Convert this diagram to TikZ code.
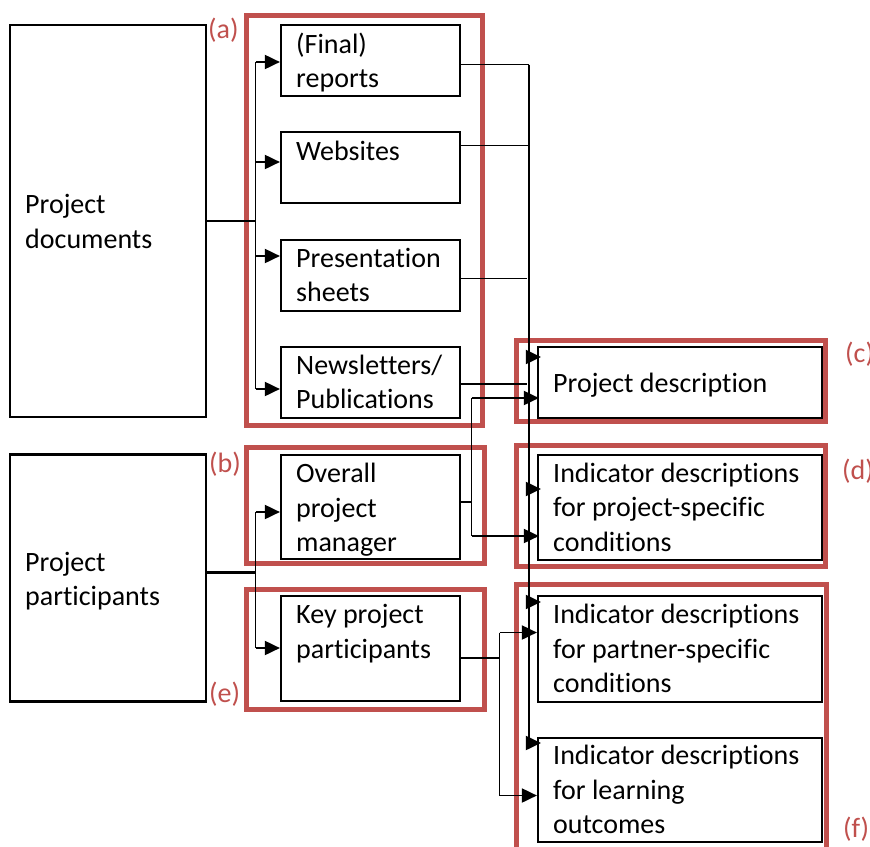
\documentclass[tikz,border=0pt]{standalone}
\usepackage{fontspec}
\setmainfont{Carlito}[Ligatures=NoCommon]
\usetikzlibrary{arrows.meta}
\definecolor{grpred}{HTML}{C0504D}
\begin{document}
\begin{tikzpicture}[x=1pt,y=-1pt,
  bx/.style={draw=black,line width=2.2pt,inner sep=0pt,minimum width=179pt},
  wbx/.style={draw=black,line width=2.2pt,inner sep=0pt,minimum width=284pt},
  txt/.style={inner sep=0pt,anchor=base west,align=left,font=\fontsize{28}{34.5}\selectfont},
  lab/.style={inner sep=0pt,anchor=base west,text=grpred,font=\fontsize{28}{34.5}\selectfont},
  ln/.style={draw=black,line width=1.9pt},
  thk/.style={draw=black,line width=2.6pt},
  arr/.style={ln,-{Triangle[length=15pt,width=14pt]}},
  grp/.style={draw=grpred,line width=5pt}]
\useasboundingbox (0,0) rectangle (870,846);
\clip (0,0) rectangle (870,846);
\fill[white] (0,0) rectangle (870,846);

% red group frames
\draw[grp] (246,15.5) rectangle (482.5,425.5);
\draw[grp] (246,447.5) rectangle (484.5,563.5);
\draw[grp] (246,589.5) rectangle (484.5,709.5);
\draw[grp] (516,340) rectangle (825,421.5);
\draw[grp] (516,445) rectangle (825,566);
\draw[grp] (516,584.5) rectangle (826,860);

% boxes
\node[draw=black,line width=2.2pt,inner sep=0pt,minimum width=196pt,minimum height=392pt] (docs) at (108,221) {};
\node[draw=black,line width=2.2pt,inner sep=0pt,minimum width=196pt,minimum height=247pt] (parts) at (108,578) {};
\node[bx,minimum height=71pt] (rep) at (370.5,60.5) {};
\node[bx,minimum height=71pt] (web) at (370.5,167.5) {};
\node[bx,minimum height=71pt] (pres) at (370.5,275.5) {};
\node[bx,minimum height=71pt] (news) at (370.5,382.5) {};
\node[bx,minimum height=104pt] (opm) at (370.5,507) {};
\node[bx,minimum height=105pt] (kpp) at (370.5,648.5) {};
\node[wbx,minimum height=71pt] (pd) at (680,382.5) {};
\node[wbx,minimum height=105pt] (ind1) at (680,507.5) {};
\node[wbx,minimum height=106pt] (ind2) at (680,649) {};
\node[wbx,minimum height=104pt] (ind3) at (680,790) {};

% texts (anchor = baseline of the last line)
\node[txt] (tdocs) at (25,248) {Project\\documents};
\node[txt] (tparts) at (25,605.5) {Project\\participants};
\node[txt] (trep) at (296,87.5) {(Final)\\reports};
\node[txt] (tweb) at (296,160) {Websites};
\node[txt] (tpres) at (296,301.5) {Presentation\\sheets};
\node[txt] (tnews) at (296,408.5) {Newsletters/\\Publications};
\node[txt] (topm) at (296,551.5) {Overall\\project\\manager};
\node[txt] (tkpp) at (296,658) {Key project\\participants};
\node[txt] (tpd) at (553,392) {Project description};
\node[txt] (tind1) at (553,551) {Indicator descriptions\\for project-specific\\conditions};
\node[txt] (tind2) at (553,692.5) {Indicator descriptions\\for partner-specific\\conditions};
\node[txt] (tind3) at (553,833.5) {Indicator descriptions\\for learning\\outcomes};

% group labels
\node[lab] (la) at (208,38) {(a)};
\node[lab] (lb) at (209,472) {(b)};
\node[lab] (lc) at (845,362) {(c)};
\node[lab] (ld) at (842,479) {(d)};
\node[lab] (le) at (209,702) {(e)};
\node[lab] (lf) at (843,837) {(f)};

% project documents bus
\coordinate (dj) at (255.5,221);
\coordinate (d1) at (255.5,62);
\coordinate (d2) at (255.5,162);
\coordinate (d3) at (255.5,256);
\coordinate (d4) at (255.5,389);
\draw[thk] (dj -| docs.east) -- (dj);
\draw[ln] (d1) -- (d4);
\draw[arr] (d1) -- (d1 -| rep.west);
\draw[arr] (d2) -- (d2 -| web.west);
\draw[arr] (d3) -- (d3 -| pres.west);
\draw[arr] (d4) -- (d4 -| news.west);

% project participants bus
\coordinate (pj) at (255.5,572.5);
\coordinate (p1) at (255.5,512);
\coordinate (p2) at (255.5,648);
\draw[thk] (pj -| parts.east) -- (pj);
\draw[ln] (p1) -- (p2);
\draw[arr] (p1) -- (p1 -| opm.west);
\draw[arr] (p2) -- (p2 -| kpp.west);

% right bus from documents
\coordinate (r1) at (529,64.5);
\coordinate (r2) at (529,145.5);
\coordinate (r3) at (527,278.5);
\coordinate (r4) at (527,384);
\coordinate (rb) at (529,747);
\draw[ln] (r1 -| rep.east) -- (r1);
\draw[ln] (r2 -| web.east) -- (r2);
\draw[ln] (r3 -| pres.east) -- (r3);
\draw[ln] (r4 -| news.east) -- (r4);
\draw[ln] (r1) -- (rb);
\coordinate (q1) at (529,357);
\coordinate (q2) at (529,489);
\coordinate (q3) at (529,602);
\coordinate (q4) at (529,743);
\draw[arr,shorten >=-4pt] (q1) -- (q1 -| pd.west);
\draw[arr,shorten >=-4pt] (q2) -- (q2 -| ind1.west);
\draw[arr,shorten >=-4pt] (q3) -- (q3 -| ind2.west);
\draw[arr,shorten >=-4pt] (q4) -- (q4 -| ind3.west);

% overall project manager
\coordinate (m0) at (471.5,502);
\coordinate (m1) at (471.5,398);
\coordinate (m2) at (471.5,536);
\draw[ln] (m0 -| opm.east) -- (m0);
\draw[ln] (m1) -- (m2);
\draw[arr,shorten >=-2pt] (m1) -- (m1 -| pd.west);
\draw[arr,shorten >=-2pt] (m2) -- (m2 -| ind1.west);

% key project participants
\coordinate (k0) at (499.5,658);
\coordinate (k1) at (499.5,632.5);
\coordinate (k2) at (499.5,795.5);
\draw[thk] (k0 -| kpp.east) -- (k0);
\draw[ln] (k1) -- (k2);
\draw[arr] (k1) -- (k1 -| ind2.west);
\draw[arr] (k2) -- (k2 -| ind3.west);
\end{tikzpicture}
\end{document}
